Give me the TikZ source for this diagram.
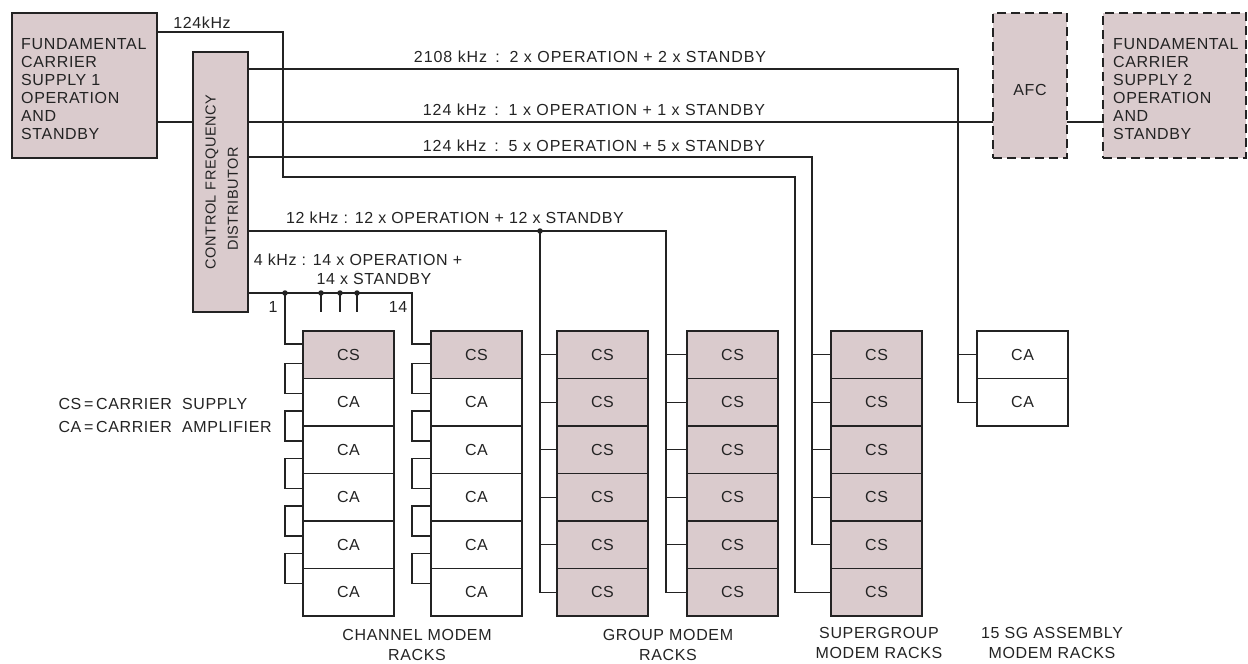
\documentclass[tikz,border=0pt]{standalone}
\usepackage{fontspec}
\setmainfont{Liberation Sans}[LetterSpace=4.0]
\definecolor{pinkc}{RGB}{218,203,205}
\definecolor{linec}{RGB}{35,35,35}
\tikzset{
  every node/.style={font=\fontsize{16}{18}\selectfont, text=linec},
  wire/.style={draw=linec, line width=1.1pt},
  unitbox/.style={draw=linec, line width=1.4pt, minimum width=91, minimum height=47.5,
    anchor=north west, inner sep=0pt, outer sep=0pt},
  csunit/.style={unitbox, fill=pinkc},
  caunit/.style={unitbox, fill=white},
  bigbox/.style={draw=linec, line width=1.4pt, fill=pinkc, anchor=north west, inner sep=0pt, outer sep=0pt},
  dashbox/.style={bigbox, dash pattern=on 9pt off 5pt},
  blocktext/.style={anchor=north west, align=left, inner sep=0pt},
  dot/.style={circle, fill=linec, inner sep=0pt, minimum size=5.5pt},
  twoline/.style={align=center, font=\fontsize{16}{20}\selectfont},
  widelbl/.style={font=\fontsize{16}{18}\selectfont\addfontfeature{LetterSpace=6.0}}
}
\begin{document}
\begin{tikzpicture}[x=1pt,y=-1pt]
\useasboundingbox (0,0) rectangle (1248,664);

% big boxes
\node[bigbox, minimum width=145, minimum height=145] (fcs1) at (12,13) {};
\node[blocktext] (fcs1t) at (21,38) {FUNDAMENTAL\\CARRIER\\SUPPLY 1\\OPERATION\\AND\\STANDBY};
\node[bigbox, minimum width=55, minimum height=260] (dist) at (193,52) {};
\node[rotate=90, font=\fontsize{14.5}{16}\selectfont] (distt1) at (212,182) {CONTROL FREQUENCY};
\node[rotate=90, font=\fontsize{14.5}{16}\selectfont] (distt2) at (233,199) {DISTRIBUTOR};
\node[dashbox, minimum width=74, minimum height=145] (afc) at (993,13) {};
\node (afct) at (1030,90) {AFC};
\node[dashbox, minimum width=143, minimum height=145] (fcs2) at (1103,13) {};
\node[blocktext] (fcs2t) at (1113,38) {FUNDAMENTAL\\CARRIER\\SUPPLY 2\\OPERATION\\AND\\STANDBY};

% racks
\foreach \r in {1,...,6}{
  \pgfmathsetmacro{\yy}{331+47.5*(\r-1)}
  \ifnum\r=1
    \node[csunit] (ch1-\r) at (303,\yy) {CS};
    \node[csunit] (ch2-\r) at (431,\yy) {CS};
  \else
    \node[caunit] (ch1-\r) at (303,\yy) {CA};
    \node[caunit] (ch2-\r) at (431,\yy) {CA};
  \fi
  \node[csunit] (gr1-\r) at (557,\yy) {CS};
  \node[csunit] (gr2-\r) at (687,\yy) {CS};
  \node[csunit] (sg-\r) at (831,\yy) {CS};
}
\node[caunit] (ca-1) at (977,331) {CA};
\node[caunit] (ca-2) at (977,378.5) {CA};

% coordinates
\coordinate (y122) at (0,122);
\coordinate (j124a) at (283,32);
\coordinate (j124b) at (795,177);
\coordinate (j2108) at (958,69);
\coordinate (j124c) at (812,157);
\coordinate (j12a) at (540,231);
\coordinate (j12b) at (666,231);
\coordinate (j4a) at (285,293);
\coordinate (j4b) at (412,293);
\coordinate (f4) at (0,344);

% 124 kHz from supply 1 to supergroup
\draw[wire] (fcs1.north east |- j124a) -- (j124a) |- (j124b) |- (sg-6.west);
% 2108 kHz
\draw[wire] (dist.east |- j2108) -- (j2108) |- (ca-2.west);
\draw[wire] (j2108 |- ca-1.west) -- (ca-1.west);
% 124 kHz 1x
\draw[wire] (fcs1.east |- y122) -- (dist.west |- y122);
\draw[wire] (dist.east |- y122) -- (afc.west |- y122);
\draw[wire] (afc.east |- y122) -- (fcs2.west |- y122);
% 124 kHz 5x
\draw[wire] (dist.east |- j124c) -- (j124c) |- (sg-5.west);
\foreach \r in {1,...,4}{ \draw[wire] (j124c |- sg-\r.west) -- (sg-\r.west); }
% 12 kHz
\draw[wire] (dist.east |- j12a) -- (j12b) |- (gr2-6.west);
\draw[wire] (j12a) |- (gr1-6.west);
\foreach \r in {1,...,5}{
  \draw[wire] (j12a |- gr1-\r.west) -- (gr1-\r.west);
  \draw[wire] (j12b |- gr2-\r.west) -- (gr2-\r.west);
}
\node[dot] (d12) at (j12a) {};
% 4 kHz
\draw[wire] (dist.east |- j4a) -- (j4b) |- (ch2-1.west |- f4);
\draw[wire] (j4a) |- (ch1-1.west |- f4);
\node[dot] (d4a) at (j4a) {};
\foreach \xx/\nm in {321/b,340/c,357/d}{
  \coordinate (t\nm) at (\xx,312);
  \draw[wire] (\xx,293) -- (t\nm);
  \node[dot] (d4\nm) at (\xx,293) {};
}
% loop-through brackets
\foreach \r in {1,...,5}{
  \draw[wire] (ch1-\r.south west) ++(0,-15) -- ++(-18,0) -- ++(0,30) -- ++(18,0);
  \draw[wire] (ch2-\r.south west) ++(0,-15) -- ++(-19,0) -- ++(0,30) -- ++(19,0);
}

% labels
\node (l124) at (202,23) {124kHz};
\node[widelbl] (l2108) at (590,57) {2108 kHz \,:\, 2 x OPERATION + 2 x STANDBY};
\node[widelbl] (l124a) at (594,110) {124 kHz \,:\, 1 x OPERATION + 1 x STANDBY};
\node[widelbl] (l124b) at (594,146) {124 kHz \,:\, 5 x OPERATION + 5 x STANDBY};
\node (l12) at (455,218) {12 kHz : 12 x OPERATION + 12 x STANDBY};
\node (l4a) at (358,260) {4 kHz : 14 x OPERATION +};
\node (l4b) at (374,279) {14 x STANDBY};
\node (n1) at (273,307) {1};
\node (n14) at (398,307) {14};
\node[anchor=west] (legcs) at (55,404) {CS\,=\,CARRIER\ \ SUPPLY};
\node[anchor=west] (legca) at (55,427) {CA\,=\,CARRIER\ \ AMPLIFIER};
\node[twoline] (lch) at (417,645) {CHANNEL MODEM\\RACKS};
\node[twoline] (lgr) at (668,645) {GROUP MODEM\\RACKS};
\node[twoline] (lsg) at (879,643) {SUPERGROUP\\MODEM RACKS};
\node[twoline] (lsa) at (1052,643) {15 SG ASSEMBLY\\MODEM RACKS};
\end{tikzpicture}
\end{document}
